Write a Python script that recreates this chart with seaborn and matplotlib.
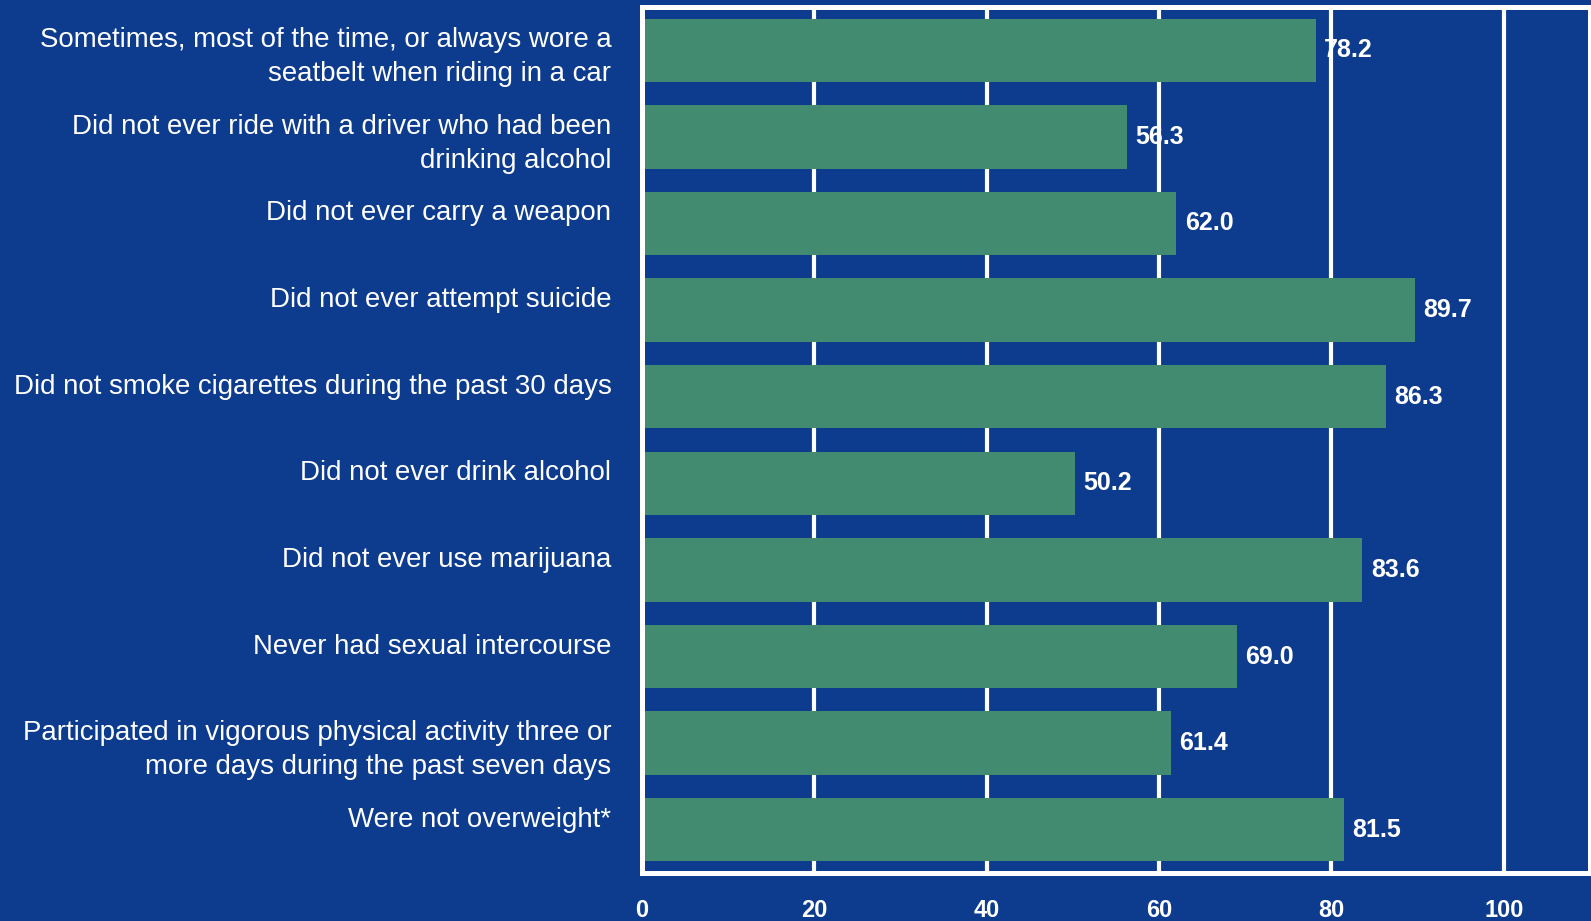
import matplotlib
matplotlib.use("Agg")
import matplotlib.pyplot as plt
import seaborn as sns
import pandas as pd

# Data
labels = [
    "Sometimes, most of the time, or always wore a\nseatbelt when riding in a car",
    "Did not ever ride with a driver who had been\ndrinking alcohol",
    "Did not ever carry a weapon",
    "Did not ever attempt suicide",
    "Did not smoke cigarettes during the past 30 days",
    "Did not ever drink alcohol",
    "Did not ever use marijuana",
    "Never had sexual intercourse",
    "Participated in vigorous physical activity three or\nmore days during the past seven days",
    "Were not overweight*",
]
values = [78.2, 56.3, 62.0, 89.7, 86.3, 50.2, 83.6, 69.0, 61.4, 81.5]
x_ticks = [0, 20, 40, 60, 80, 100]

bg = "#0d3b8e"
bar_color = "#428b71"

df = pd.DataFrame({"label": labels, "value": values})

sns.set_style("white")
plt.rcParams["font.family"] = ["Liberation Sans", "DejaVu Sans"]

fig = plt.figure(figsize=(15.91, 9.21), dpi=100, facecolor=bg)
ax = fig.add_axes([642 / 1591, 1 - 873 / 921, 948 / 1591, 866 / 921])
ax.set_facecolor(bg)

sns.barplot(data=df, x="value", y="label", orient="h", color=bar_color,
            width=0.73, saturation=1, linewidth=0, edgecolor="none", ax=ax)

ax.set_xlim(0, 110)
ax.set_ylim(len(labels) - 0.5, -0.5)
ax.set_xticks(x_ticks)
ax.set_xticklabels([str(t) for t in x_ticks], fontsize=17, fontweight="bold", color="white")

# single-line labels sit at the top of the slot, like the first line of a two-line label
ticklabels = [l if "\n" in l else l + "\n" for l in labels]
ax.set_yticks(range(len(labels)))
ax.set_yticklabels(ticklabels, fontsize=19.9, color="white", linespacing=1.4)
ax.tick_params(axis="y", length=0, pad=22)
ax.tick_params(axis="x", length=0, pad=19)
ax.set_xlabel("")
ax.set_ylabel("")

ax.set_axisbelow(True)
ax.xaxis.grid(True, color="white", linewidth=3)
ax.yaxis.grid(False)
for side in ["left", "right", "top", "bottom"]:
    ax.spines[side].set_visible(True)
    ax.spines[side].set_color("white")
    ax.spines[side].set_linewidth(3.6)

for i, v in enumerate(values):
    ax.annotate(f"{v:.1f}", xy=(v, i), xytext=(6, 0), textcoords="offset points",
                ha="left", va="center", color="white", fontsize=18, fontweight="bold")

fig.savefig("out.png", dpi=100, facecolor=bg)
